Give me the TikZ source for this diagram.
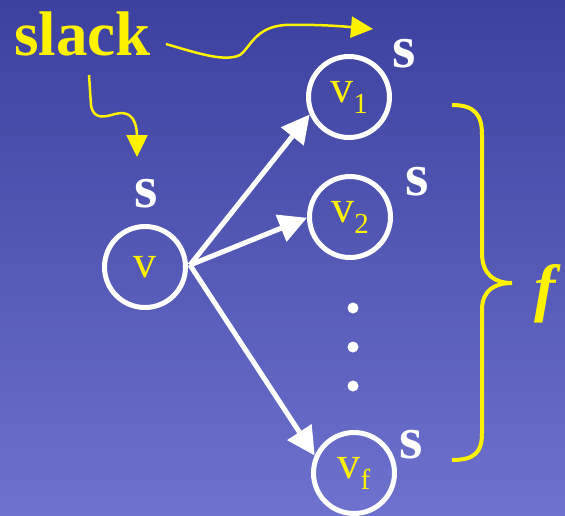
\documentclass[tikz,border=0pt]{standalone}
\usepackage{fontspec}
\setmainfont{Liberation Serif}
\newfontfamily\bifont{Liberation Serif Bold Italic}
\usetikzlibrary{arrows.meta}
\definecolor{bgtop}{RGB}{60,64,158}
\definecolor{bgbot}{RGB}{110,114,206}
\newcommand\vsub[1]{\raisebox{-11pt}{\fontsize{29}{29}\selectfont #1}}
\begin{document}
\begin{tikzpicture}[
  x=1pt, y=-1pt,
  vert/.style={circle, draw=white, line width=5pt, minimum size=81pt, inner sep=0pt,
               text=yellow, font=\fontsize{46}{46}\selectfont},
  slbl/.style={inner sep=0pt, anchor=base west, text=white,
               font=\fontsize{60}{60}\selectfont\bfseries},
  edge/.style={-{Triangle[length=28pt, width=28pt]}, white, line width=5pt},
  squig/.style={-{Triangle[length=22pt, width=21pt]}, yellow, line width=2.5pt},
]
  \shade[top color=bgtop, bottom color=bgbot] (0,0) rectangle (565,515);
  \useasboundingbox (0,0) rectangle (565,515);

  \node[vert] (v)  at (145,267) {v};
  \node[vert] (v1) at (349,97)  {v\vsub{1}};
  \node[vert] (v2) at (350,217) {v\vsub{2}};
  \node[vert] (vf) at (354,473) {v\vsub{f}};
  \foreach \y in {308,347,386}
    \fill[white] (353,\y) circle (5.5pt);

  \node[slbl] (sv)  at (134,207) {s};
  \node[slbl] (sv1) at (392,67)  {s};
  \node[slbl] (sv2) at (405,195) {s};
  \node[slbl] (svf) at (399,458) {s};

  \node[inner sep=0pt, anchor=base west, text=yellow,
        font=\fontsize{63}{63}\selectfont\bfseries] (slack) at (14,55) {slack};
  \node[inner sep=0pt, anchor=base west, text=yellow,
        font=\fontsize{64}{64}\bifont] (f) at (534,309) {f};

  \coordinate (src) at (190,265);
  \draw[edge] (src) -- (v1.204);
  \draw[edge] (src) -- (v2.181);
  \draw[edge] (src) -- (vf.156);

  % slack pointers
  \coordinate (a1) at (166,44);
  \coordinate (t1) at (373,29);
  \coordinate (a2) at (89,75);
  \coordinate (t2) at (137,157);
  \draw[squig] (a1) .. controls (200,54) and (225,62) .. (240,55)
    .. controls (250,48) and (255,27) .. (285,25)
    .. controls (320,24) and (350,27) .. (t1);
  \draw[squig] (a2) -- (91,105) .. controls (93,120) and (105,117) .. (115,114)
    .. controls (127,111) and (136,115) .. (137,135) -- (t2);

  % brace
  \draw[yellow, line width=4pt] (452,105) .. controls (475,105) and (482,115) .. (482,135)
    -- (482,253) .. controls (482,275) and (495,283) .. (512,283)
    .. controls (495,283) and (482,290) .. (482,310)
    -- (482,433) .. controls (482,452) and (475,460) .. (452,460);
\end{tikzpicture}
\end{document}
